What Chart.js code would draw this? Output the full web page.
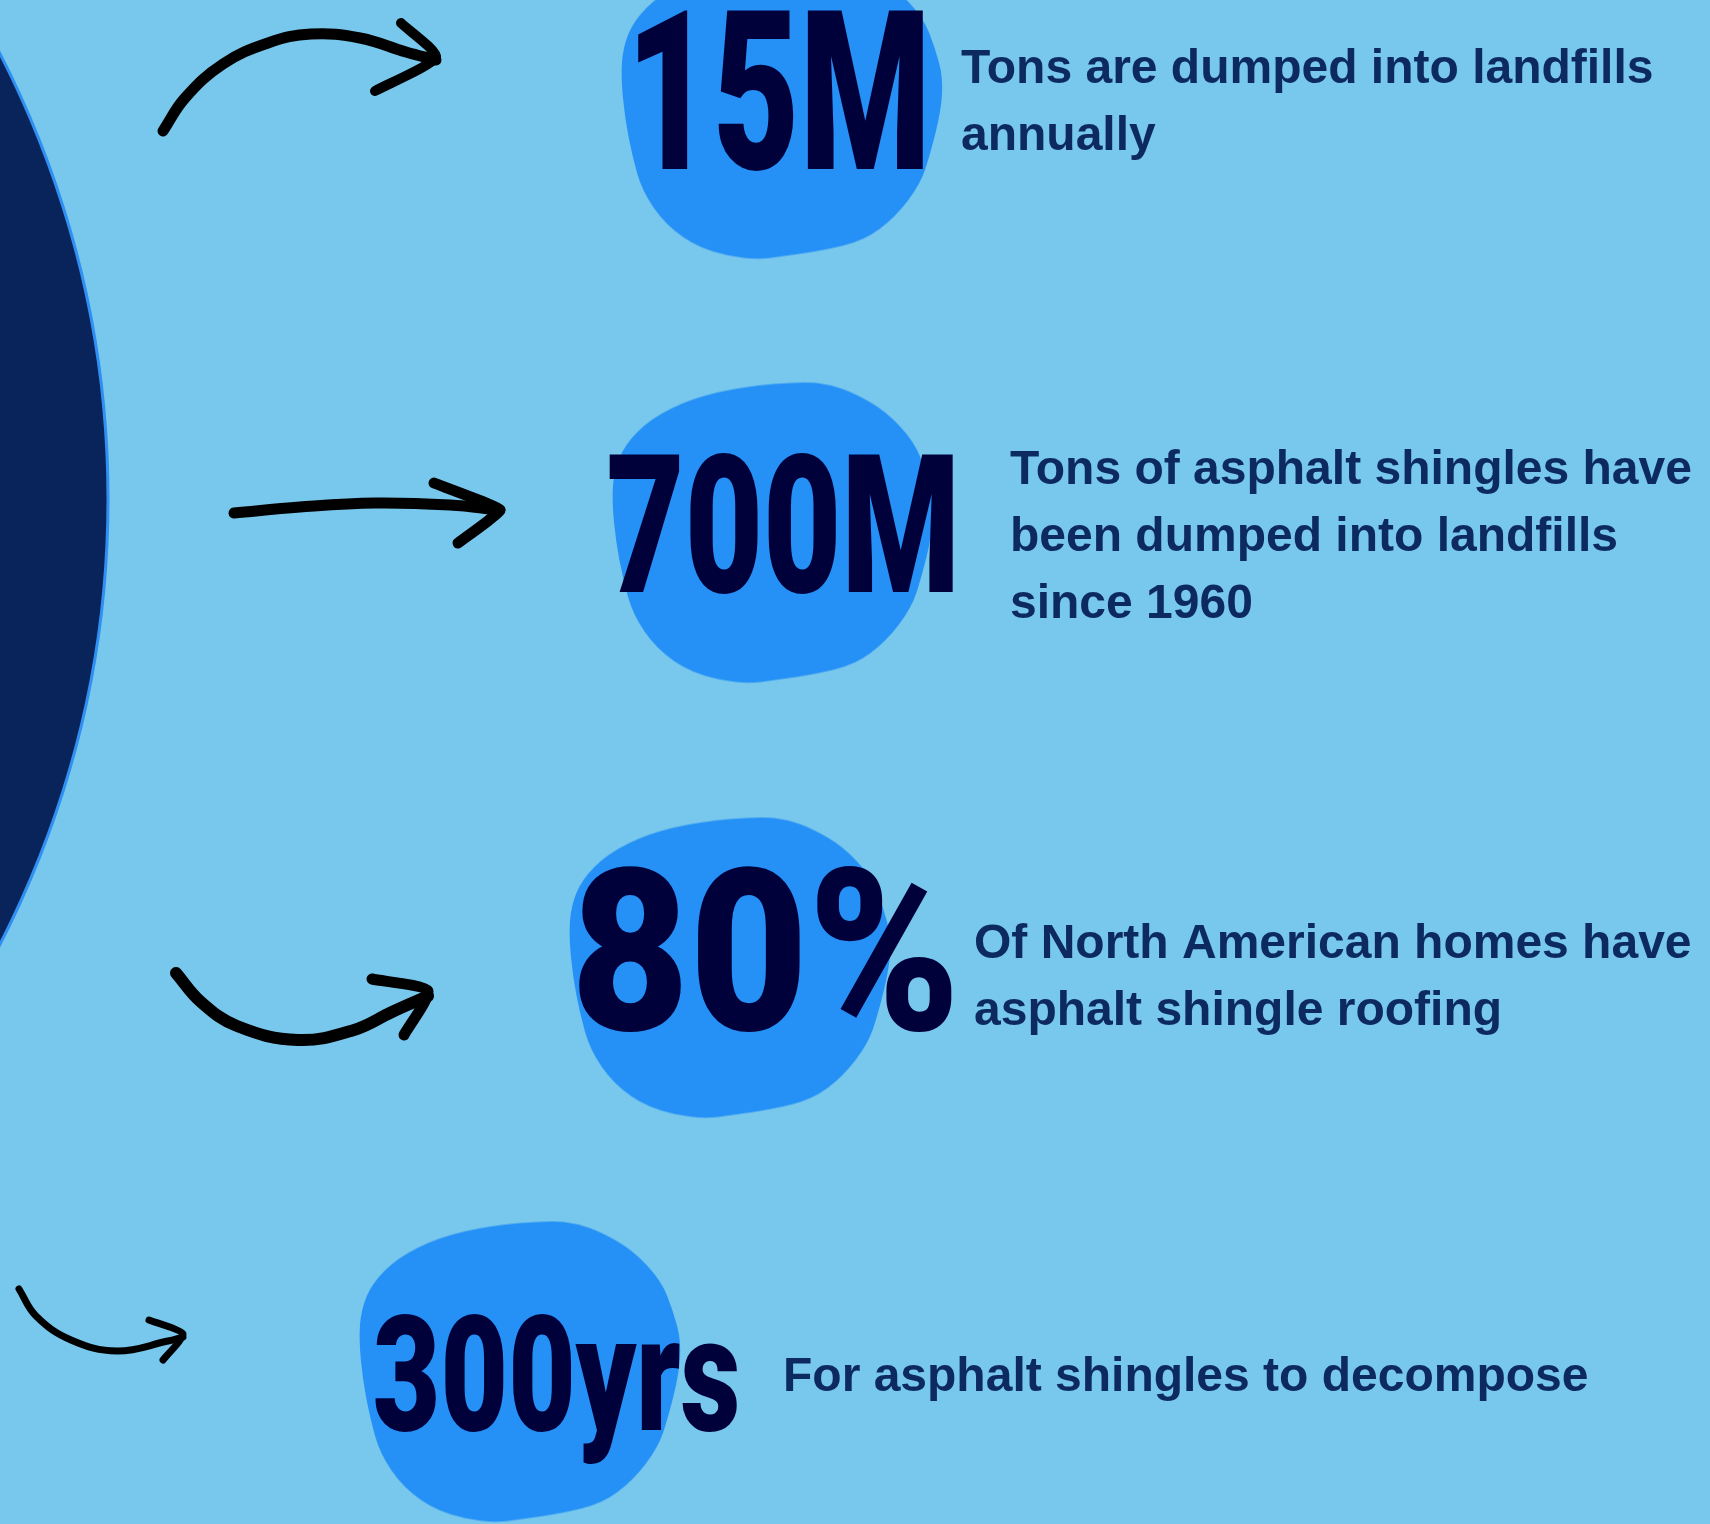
<!DOCTYPE html>
<html>
<head>
<meta charset="utf-8">
<title>Asphalt shingles in numbers</title>
<script src="https://cdn.jsdelivr.net/npm/chart.js@4.4.1/dist/chart.umd.min.js"></script>
<style>
  html, body { margin: 0; padding: 0; background: #78c7ec; }
  canvas { display: block; }
</style>
</head>
<body>
<canvas id="infoChart" width="1710" height="1524"></canvas>
<script>
// the four figures and what they mean
const statValues = ['15M', '700M', '80%', '300yrs'];
const statNotes = [
    ['Tons are dumped into landfills', 'annually'],
    ['Tons of asphalt shingles have', 'been dumped into landfills', 'since 1960'],
    ['Of North American homes have', 'asphalt shingle roofing'],
    ['For asphalt shingles to decompose']
];

// blob centres (page units, 1 unit = 1 px)
const blobX = [782, 773, 730, 520];
const blobY = [109, 533, 968, 1372];

// hand drawn arrows, shaft then head
const arrow1Shaft = [{x: 163, y: 131}, {x: 185, y: 98}, {x: 223, y: 64}, {x: 268, y: 43}, {x: 311, y: 34}, {x: 360, y: 38}, {x: 406, y: 52}, {x: 436, y: 60}];
const arrow1Head = [{x: 401, y: 23}, {x: 436, y: 57}, {x: 375, y: 91}];
const arrow2Shaft = [{x: 234, y: 513}, {x: 300, y: 507}, {x: 375, y: 503}, {x: 450, y: 505}, {x: 500, y: 510}];
const arrow2Head = [{x: 434, y: 483}, {x: 500, y: 510}, {x: 458, y: 543}];
const arrow3Shaft = [{x: 176, y: 973}, {x: 201, y: 1002}, {x: 237, y: 1026}, {x: 298, y: 1040}, {x: 354, y: 1030}, {x: 392, y: 1012}, {x: 428, y: 996}];
const arrow3Head = [{x: 372, y: 979}, {x: 428, y: 991}, {x: 404, y: 1035}];
const arrow4Shaft = [{x: 19, y: 1289}, {x: 36, y: 1316}, {x: 71, y: 1340}, {x: 117, y: 1351}, {x: 168, y: 1341}, {x: 183, y: 1337}];
const arrow4Head = [{x: 149, y: 1320}, {x: 183, y: 1334}, {x: 163, y: 1360}];

// ---- layout / style, not data ----
const W = 1710, H = 1524;
const BLOB_COLOR = '#2590f5';
const NUMBER_COLOR = '#00003b';
const NOTE_COLOR = '#0d2a5e';

// outline of the blob, normalised to its bounding box
const BLOB_SHAPE = [
    [0.596, 0], [0.407, 0.017], [0.248, 0.056], [0.121, 0.122], [0.040, 0.208],
    [0.006, 0.297], [0, 0.396], [0.012, 0.528], [0.034, 0.650], [0.065, 0.769],
    [0.137, 0.881], [0.248, 0.964], [0.407, 1.0], [0.519, 0.983], [0.627, 0.967],
    [0.755, 0.934], [0.851, 0.858], [0.929, 0.749], [0.960, 0.650], [0.994, 0.505],
    [1.0, 0.396], [0.975, 0.297], [0.938, 0.198], [0.851, 0.099], [0.755, 0.040],
    [0.677, 0.010]
];
const BLOB_W = 322, BLOB_H = 303;

// ink box of each big figure and anchor of its caption
const numberBoxes = [
    {left: 638, right: 923, top: 8, base: 169},
    {left: 609, right: 953, top: 453, base: 592},
    {left: 579, right: 952, top: 867, base: 1030},
    {left: 375, right: 737, top: 1314, base: 1430}
];
const noteAnchors = [
    {x: 961, y: 83},
    {x: 1010, y: 484},
    {x: 974, y: 958},
    {x: 783, y: 1391}
];
const NOTE_LINE = 67;

function makeBlob() {
    const c = document.createElement('canvas');
    c.width = BLOB_W;
    c.height = BLOB_H;
    const g = c.getContext('2d');
    const pts = BLOB_SHAPE.map(p => [p[0] * BLOB_W, p[1] * BLOB_H]);
    const mid = (a, b) => [(a[0] + b[0]) / 2, (a[1] + b[1]) / 2];
    const n = pts.length;
    let m = mid(pts[n - 1], pts[0]);
    g.beginPath();
    g.moveTo(m[0], m[1]);
    for (let i = 0; i < n; i++) {
        const nx = mid(pts[i], pts[(i + 1) % n]);
        g.quadraticCurveTo(pts[i][0], pts[i][1], nx[0], nx[1]);
    }
    g.closePath();
    g.fillStyle = BLOB_COLOR;
    g.fill();
    return c;
}

function arrowSet(points, width, tension) {
    return {
        type: 'line',
        data: points,
        borderColor: '#000000',
        borderWidth: width,
        borderCapStyle: 'round',
        borderJoinStyle: 'round',
        pointRadius: 0,
        tension: tension,
        fill: false,
        clip: false
    };
}

// big dark disc on the left, drawn behind everything
const discPlugin = {
    id: 'disc',
    beforeDatasetsDraw(chart) {
        const {ctx, scales: {x, y}} = chart;
        const cx = x.getPixelForValue(-863);
        const cy = y.getPixelForValue(499);
        const r = x.getPixelForValue(-863 + 971) - cx;
        ctx.save();
        ctx.beginPath();
        ctx.arc(cx, cy, r, 0, Math.PI * 2);
        ctx.fillStyle = '#08245a';
        ctx.fill();
        ctx.lineWidth = 3;
        ctx.strokeStyle = '#2f8ff2';
        ctx.stroke();
        ctx.restore();
    }
};

// figures and captions on top of the blobs
const textPlugin = {
    id: 'statText',
    afterDatasetsDraw(chart) {
        const {ctx, scales: {x, y}} = chart;
        const bigFont = (s) => `900 ${s}px Roboto, "DejaVu Sans", sans-serif`;
        ctx.save();
        ctx.textAlign = 'left';
        ctx.textBaseline = 'alphabetic';

        statValues.forEach((txt, i) => {
            const b = numberBoxes[i];
            const left = x.getPixelForValue(b.left);
            const right = x.getPixelForValue(b.right);
            const top = y.getPixelForValue(b.top);
            const base = y.getPixelForValue(b.base);
            ctx.font = bigFont(100);
            const cap = ctx.measureText('H').actualBoundingBoxAscent;
            const size = 100 * (base - top) / cap;
            ctx.font = bigFont(size);
            const m = ctx.measureText(txt);
            const ink = m.actualBoundingBoxLeft + m.actualBoundingBoxRight;
            const sx = (right - left) / ink;
            ctx.save();
            ctx.translate(left, base);
            ctx.scale(sx, 1);
            ctx.fillStyle = NUMBER_COLOR;
            ctx.fillText(txt, m.actualBoundingBoxLeft, 0);
            ctx.restore();
        });

        ctx.font = 'bold 48px "Liberation Sans", Arial, sans-serif';
        ctx.fillStyle = NOTE_COLOR;
        statNotes.forEach((lines, i) => {
            const a = noteAnchors[i];
            lines.forEach((line, k) => {
                ctx.fillText(line, x.getPixelForValue(a.x), y.getPixelForValue(a.y + k * NOTE_LINE));
            });
        });
        ctx.restore();
    }
};

const blobImage = makeBlob();

new Chart(document.getElementById('infoChart'), {
    type: 'scatter',
    data: {
        labels: statValues,
        datasets: [
            {
                label: 'stats',
                data: blobX.map((bx, i) => ({x: bx, y: blobY[i]})),
                pointStyle: blobImage,
                pointRadius: 10,
                pointHoverRadius: 10,
                clip: false
            },
            arrowSet(arrow1Shaft, 11, 0.4),
            arrowSet(arrow1Head, 10, 0.2),
            arrowSet(arrow2Shaft, 11, 0.4),
            arrowSet(arrow2Head, 11, 0.1),
            arrowSet(arrow3Shaft, 12, 0.4),
            arrowSet(arrow3Head, 11, 0.2),
            arrowSet(arrow4Shaft, 7, 0.4),
            arrowSet(arrow4Head, 7, 0.2)
        ]
    },
    options: {
        responsive: false,
        devicePixelRatio: 1,
        animation: false,
        events: [],
        layout: { padding: 0, autoPadding: false },
        scales: {
            x: { type: 'linear', min: 0, max: W, display: false },
            y: { type: 'linear', min: 0, max: H, reverse: true, display: false }
        },
        plugins: {
            legend: { display: false },
            tooltip: { enabled: false }
        }
    },
    plugins: [discPlugin, textPlugin]
});
</script>
</body>
</html>
